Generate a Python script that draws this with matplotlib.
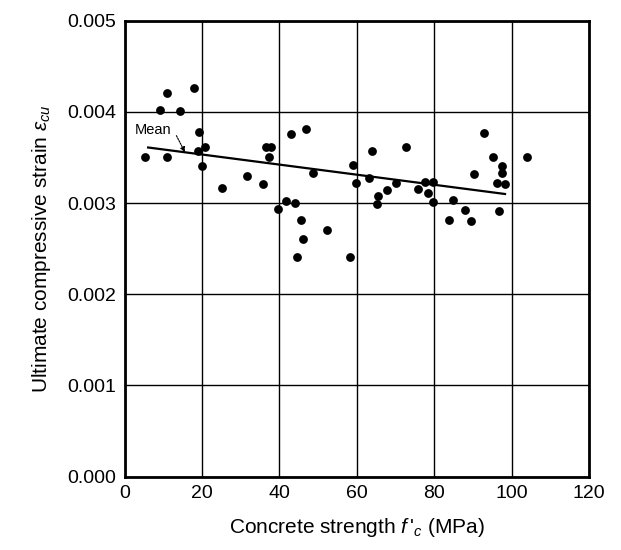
import matplotlib
matplotlib.use("Agg")
import matplotlib.pyplot as plt
import numpy as np

plt.rcParams['font.family'] = ['Liberation Sans', 'DejaVu Sans']
plt.rcParams['mathtext.fontset'] = 'custom'
plt.rcParams['mathtext.rm'] = 'Liberation Sans'
plt.rcParams['mathtext.it'] = 'Liberation Sans:italic'

# Data
strength = [5.3, 9.2, 11.1, 11.1, 14.3, 17.9, 19.3, 19.0, 20.9, 20.0,
            25.1, 31.6, 35.9, 36.6, 37.9, 37.3, 43.0, 46.9, 39.6, 41.6,
            44.1, 48.8, 45.5, 46.1, 52.3, 58.9, 59.8, 63.9, 63.1, 65.4,
            65.2, 67.9, 70.1, 44.5, 58.2, 72.7, 75.8, 77.7, 79.8, 78.5,
            79.8, 84.8, 90.3, 92.9, 95.1, 97.5, 97.5, 96.3, 98.4, 88.0,
            83.9, 89.5, 96.7, 103.9]
strain = [0.00351, 0.00402, 0.00421, 0.00351, 0.00401, 0.00426, 0.00378, 0.00357, 0.00362, 0.00341,
          0.00317, 0.00330, 0.00321, 0.00361, 0.00361, 0.00351, 0.00376, 0.00381, 0.00293, 0.00302,
          0.00300, 0.00333, 0.00281, 0.00261, 0.00271, 0.00342, 0.00322, 0.00357, 0.00328, 0.00308,
          0.00299, 0.00314, 0.00322, 0.00241, 0.00241, 0.00362, 0.00315, 0.00323, 0.00323, 0.00311,
          0.00301, 0.00303, 0.00332, 0.00377, 0.00351, 0.00341, 0.00333, 0.00322, 0.00321, 0.00292,
          0.00281, 0.00280, 0.00291, 0.00351]

mean_x = [6.1, 98.3]
mean_y = [0.00361, 0.00310]

xticks = [0, 20, 40, 60, 80, 100, 120]
yticks = [0.000, 0.001, 0.002, 0.003, 0.004, 0.005]

fig = plt.figure(figsize=(6.21, 5.5), dpi=100)
ax = fig.add_axes([0.2005, 0.1333, 0.748, 0.829])

ax.grid(True, color='black', linewidth=1.0)
ax.set_axisbelow(True)

ax.plot(mean_x, mean_y, color='black', linewidth=1.6, zorder=3)
ax.scatter(strength, strain, s=40, color='black', zorder=4, linewidths=0)

ax.text(2.6, 0.00380, 'Mean', fontsize=10.5, ha='left', va='center', zorder=5)
ax.annotate('', xy=(15.6, 0.00356), xytext=(13.4, 0.00374),
            arrowprops=dict(arrowstyle='-|>', color='black', lw=0.8,
                            linestyle=(0, (1.5, 1)), mutation_scale=7,
                            shrinkA=0, shrinkB=0), zorder=5)

ax.set_xlim(0, 120)
ax.set_ylim(0, 0.005)
ax.set_xticks(xticks)
ax.set_yticks(yticks)
ax.set_xticklabels([str(t) for t in xticks])
ax.set_yticklabels([f"{t:.3f}" for t in yticks])
ax.tick_params(axis='both', length=0, labelsize=14, pad=6)

for sp in ax.spines.values():
    sp.set_linewidth(2.0)
    sp.set_color('black')

ax.set_xlabel(r"Concrete strength $f\,'_c$ (MPa)", fontsize=15, labelpad=10)
ax.set_ylabel(r"Ultimate compressive strain $\varepsilon_{cu}$", fontsize=15, labelpad=10)

fig.savefig('out.png', dpi=100, facecolor='white')
